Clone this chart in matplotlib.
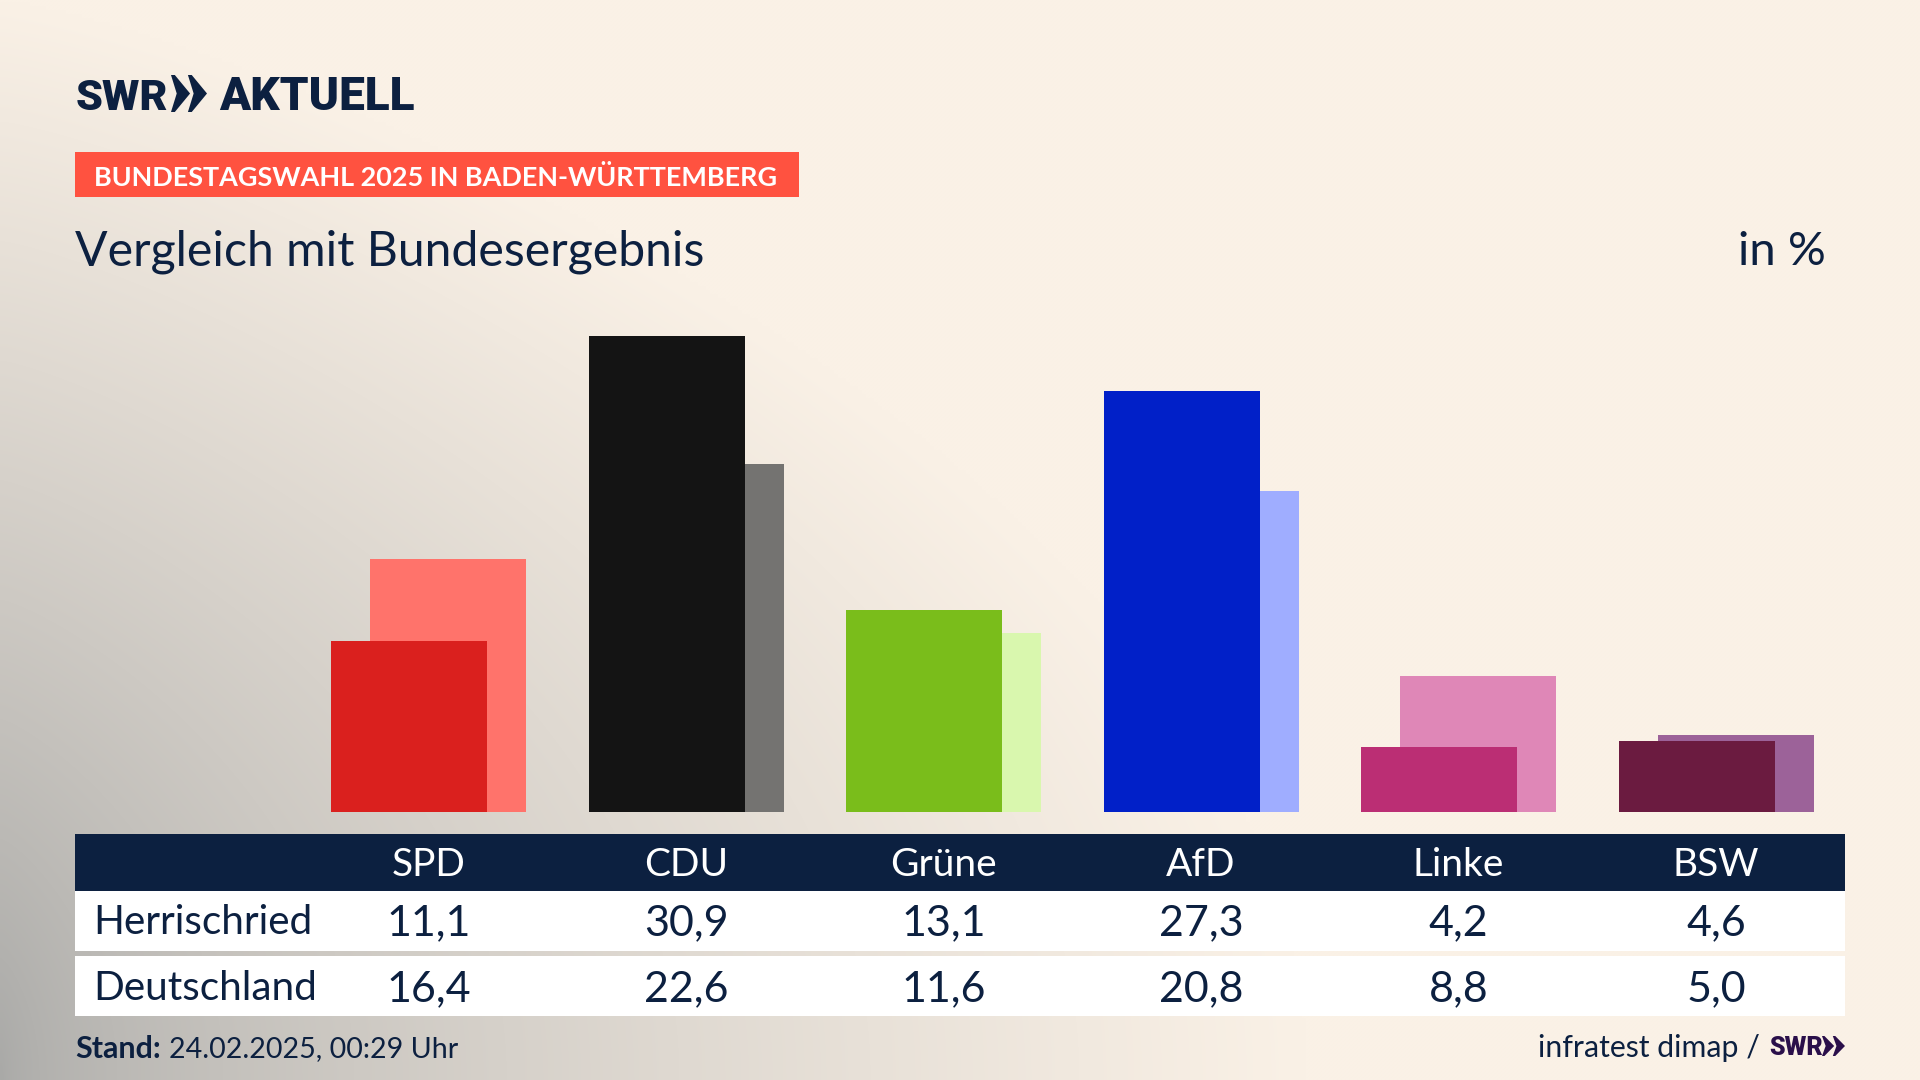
import numpy as np
from matplotlib import pyplot as plt
from matplotlib.patches import Rectangle, Polygon

plt.rcParams['font.family'] = ['Lato', 'DejaVu Sans']

parties = ['SPD', 'CDU', 'Grüne', 'AfD', 'Linke', 'BSW']
herrischried = [11.1, 30.9, 13.1, 27.3, 4.2, 4.6]
deutschland = [16.4, 22.6, 11.6, 20.8, 8.8, 5.0]
row_names = ['Herrischried', 'Deutschland']
colors_dark = ['#DA201E', '#141414', '#7ABD1B', '#0120C8', '#BB2E74', '#6B1B40']
colors_light = ['#FF736B', '#747371', '#D9F7AE', '#9FADFF', '#DF87B7', '#9C6299']

navy = '#0C2040'
W, H = 1920, 1080

def comma(v):
    return f'{v:.1f}'.replace('.', ',')

fig = plt.figure(figsize=(19.2, 10.8), dpi=100)

# background, grey glow out of the lower left corner
bg = fig.add_axes([0, 0, 1, 1], zorder=0)
bg.set_xlim(0, W)
bg.set_ylim(H, 0)
bg.axis('off')
xx, yy = np.meshgrid(np.linspace(0, 1, 480), np.linspace(0, 1, 270))
t = np.sqrt((xx / 0.68) ** 1.24 + (1 - yy) ** 2)
t = np.clip(t, 0, 1)
c0 = np.array([0xA9, 0xA9, 0xA7]) / 255
c1 = np.array([0xFA, 0xF1, 0xE6]) / 255
img = c0 + (c1 - c0) * t[..., None]
bg.imshow(img, extent=(0, W, H, 0), aspect='auto', interpolation='bilinear')

# logo
def chevrons(x, y, w, h, color):
    s = w * 0.53
    for i in range(2):
        x0 = x + i * (w - s)
        bg.add_patch(Polygon([(x0, y), (x0 + s * 0.2, y), (x0 + s, y + h / 2),
                              (x0 + s * 0.2, y + h), (x0, y + h),
                              (x0 + s * 0.3, y + h / 2)], color=color, lw=0))

logo = ['Roboto', 'Lato']
bg.text(76, 109.5, 'SWR', fontsize=31, fontweight='black', family=logo, color=navy, va='baseline')
chevrons(171, 75, 36, 37, navy)
bg.text(219, 109.5, 'AKTUELL', fontsize=33, fontweight='black', family=logo, color=navy, va='baseline')

# red banner and titles
bg.add_patch(Rectangle((75, 152), 724, 45, color='#FF5240', lw=0))
bg.text(94, 175, 'BUNDESTAGSWAHL 2025 IN BADEN-WÜRTTEMBERG', fontsize=19.45, fontweight='bold',
        color='white', va='center_baseline')
bg.text(75, 248, 'Vergleich mit Bundesergebnis', fontsize=34.7, color=navy, va='center_baseline')
bg.text(1826, 248, 'in %', fontsize=34, color=navy, ha='right', va='center_baseline')

# bars
ax = fig.add_axes([75 / W, 1 - 812 / H, 1770 / W, 572 / H], zorder=1)
ax.patch.set_alpha(0)
ax.axis('off')
step = 257.5
ax.set_xlim((75 - 428.6) / step, (1845 - 428.6) / step)
ax.set_ylim(0, 572 / 15.41)
x = np.arange(len(parties))
bar_w = 156 / step
off = 19.5 / step
ax.bar(x + off, deutschland, bar_w, color=colors_light)
ax.bar(x - off, herrischried, bar_w, color=colors_dark)

# table
bg.add_patch(Rectangle((75, 834), 1770, 57, color=navy, lw=0))
bg.add_patch(Rectangle((75, 891), 1770, 60, color='white', lw=0))
bg.add_patch(Rectangle((75, 956), 1770, 60, color='white', lw=0))
cx = [428.6 + step * i for i in x]
for i, p in enumerate(parties):
    bg.text(cx[i], 862, p, fontsize=28, color='white', ha='center', va='center_baseline')
    bg.text(cx[i], 920, comma(herrischried[i]), fontsize=31, color=navy, ha='center', va='center_baseline')
    bg.text(cx[i], 986, comma(deutschland[i]), fontsize=31, color=navy, ha='center', va='center_baseline')
bg.text(93, 919, row_names[0], fontsize=29.2, color=navy, va='center_baseline')
bg.text(93, 985, row_names[1], fontsize=29.2, color=navy, va='center_baseline')

# footer
bg.text(75, 1047, 'Stand:', fontsize=22, fontweight='bold', color=navy, va='center_baseline')
bg.text(169, 1047, '24.02.2025, 00:29 Uhr', fontsize=20.6, color=navy, va='center_baseline')
bg.text(1760, 1046, 'infratest dimap /', fontsize=21.8, color=navy, ha='right', va='center_baseline')
bg.text(1769, 1055, 'SWR', fontsize=18, fontweight='black', family=logo, color='#2A0F4A', va='baseline')
chevrons(1822, 1036, 23, 20, '#2A0F4A')

fig.savefig('out.png', dpi=100)
